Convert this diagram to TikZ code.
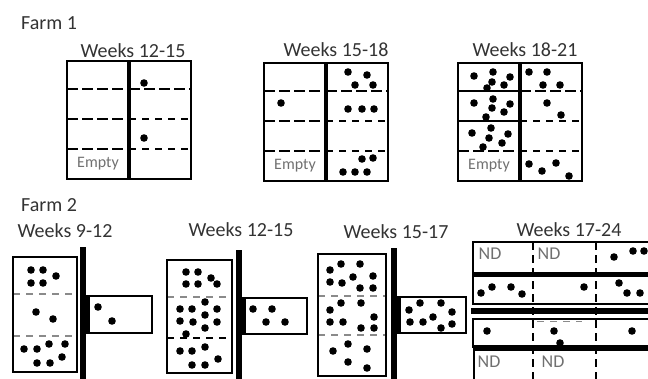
\documentclass[tikz,border=0pt]{standalone}
\usepackage{fontspec}
\setmainfont{Carlito}
\usetikzlibrary{positioning}
\definecolor{txGrey}{HTML}{333333}
\definecolor{lbGrey}{HTML}{707070}
\definecolor{dsGrey}{HTML}{8A8A8A}
\tikzset{
  pen/.style       = {line width=2.2pt, black},
  divider/.style   = {line width=3.6pt, black},
  wall/.style      = {line width=6pt, black},
  longdash/.style  = {line width=1.9pt, dash pattern=on 11pt off 4pt},
  shortdash/.style = {line width=1.9pt, dash pattern=on 7pt off 6pt},
  greydash/.style  = {line width=1.6pt, dsGrey, dash pattern=on 7pt off 6pt},
  vdash/.style     = {line width=1.9pt, dash pattern=on 8pt off 5pt},
  ttl/.style       = {font=\fontsize{20}{22}\selectfont, txGrey, inner sep=0pt},
  tag/.style       = {font=\fontsize{16}{17}\selectfont, lbGrey, inner sep=0pt},
  ndtag/.style     = {font=\fontsize{18}{19}\selectfont, lbGrey, inner sep=0pt},
}
% dots given as x/y pairs
\newcommand{\spots}[1]{\foreach \px/\py in {#1} \fill (\px,\py) circle[radius=3.8pt];}

\begin{document}
\begin{tikzpicture}[x=1pt, y=-1pt]
\useasboundingbox (0,0) rectangle (648,378);

% ---- helper: one farm 1 pen (shift x, shift y, left line style, name) ----
\newcommand{\penbox}[4]{%
  \begin{scope}[shift={(#1,#2)}]
    \draw[#3] (0,28) -- (62,28) (0,58) -- (62,58);
    \draw[longdash] (0,88) -- (62,88);
    \draw[longdash] (62,28) -- (124,28);
    \draw[shortdash] (62,58) -- (124,58) (62,88) -- (124,88);
    \draw[pen] (0,0) rectangle (124,118);
    \draw[divider] (62,0) -- (62,118);
    \node[tag] (#4) at (31,103) {Empty};
  \end{scope}
}

% ---- Farm 1 ----------------------------------------------------------------
\node[ttl, anchor=west] (farm1) at (21,23) {Farm 1};

\node[ttl] (f1w12) at (133,51) {Weeks 12-15};
\penbox{67}{61}{longdash}{empty1}
\spots{144/83, 144/138}

\node[ttl] (f1w15) at (336,50) {Weeks 15-18};
\penbox{264}{63}{longdash}{empty2}
\spots{348/72, 367/75, 355/85, 373/85, 281/103, 348/109, 362/109, 374/109,
       362/159, 373/158, 343/172, 355/172, 367/172}

\node[ttl] (f1w18) at (525,50) {Weeks 18-21};
\penbox{458}{63}{pen}{empty3}
\spots{474/76, 493/72, 492/82, 510/77, 504/85, 487/88,
       474/103, 493/99, 492/108, 510/104, 504/112, 486/117,
       472/133, 491/128, 489/138, 508/134, 502/143, 483/147,
       529/72, 547/72, 543/85, 560/85, 547/103, 561/115,
       529/164, 542/171, 556/163, 569/176}

% ---- Farm 2 ----------------------------------------------------------------
\node[ttl, anchor=west] (farm2) at (21,205) {Farm 2};

% (a) weeks 9-12
\node[ttl] (f2w9) at (65,231) {Weeks 9-12};
\draw[greydash] (13,294) -- (77,294) (13,336) -- (77,336);
\draw[pen] (13,257) rectangle (77,372);
\draw[wall] (83,247) -- (83,380);
\draw[pen] (86,296) rectangle (152,333);
\fill (80,296) rectangle (90,333);
\spots{31/270, 43/270, 31/283, 43/283, 56/276, 36/312, 53/319,
       24/349, 37/349, 49/344, 65/344, 37/363, 50/363, 62/357,
       98/307, 112/321}

% (b) weeks 12-15
\node[ttl] (f2w12) at (241,230) {Weeks 12-15};
\draw[greydash] (167,297) -- (232,297);
\draw[shortdash] (167,338) -- (232,338);
\draw[pen] (167,260) rectangle (232,373);
\draw[wall] (239,250) -- (239,380);
\draw[pen] (242,298) rectangle (307,334);
\fill (236,298) rectangle (246,334);
\spots{186/272, 198/272, 186/284, 198/284, 211/278, 217/284,
       180/309, 192/309, 205/302, 217/309, 180/321, 193/322, 205/315, 217/322, 205/328,
       186/334, 180/351, 192/351, 205/347, 192/365, 205/365, 218/359,
       253/309, 272/309, 266/322, 285/322}

% (c) weeks 15-17
\node[ttl] (f2w15) at (396,232) {Weeks 15-17};
\draw[greydash] (318,296) -- (386,296) (318,335) -- (386,335);
\draw[pen] (318,254) rectangle (386,376);
\draw[wall] (394,248) -- (394,380);
\draw[pen] (397,297) rectangle (466,333);
\fill (391,297) rectangle (401,333);
\spots{330/270, 341/264, 360/264, 330/282, 342/283, 353/277, 373/276, 360/288, 373/288,
       330/310, 341/303, 361/303, 330/322, 343/322, 374/317, 361/328, 374/328,
       348/344, 333/351, 367/349, 348/362, 367/368,
       420/303, 441/303, 409/310, 410/322, 423/322, 433/317, 452/312, 452/324, 441/328}

% (d) weeks 17-24: rows running off the right edge
\node[ttl] (f2w17) at (569,230) {Weeks 17-24};
\draw[pen] (652,242) -- (473,242) -- (473,304) -- (652,304);
\fill (473,271.5) rectangle (652,277);
\fill (471,307.5) rectangle (652,314);
\draw[pen] (652,319) -- (473,319) -- (473,348);
\fill (473,345) rectangle (652,351);
\draw[pen] (474,351) -- (474,380);
\draw[greydash] (537,321.5) -- (582,321.5);
\draw[vdash] (533,242) -- (533,380);
\draw[vdash] (596,242) -- (596,380);
\node[ndtag] (nd1) at (490,254) {ND};
\node[ndtag] (nd2) at (549,254) {ND};
\node[ndtag] (nd3) at (489,362) {ND};
\node[ndtag] (nd4) at (553,362) {ND};
\spots{614/257, 633/251, 644/251,
       481/293, 492/287, 511/287, 522/294, 584/287, 619/283, 627/293, 640/293,
       487/331, 554/331, 560/343, 632/331}

\end{tikzpicture}
\end{document}
